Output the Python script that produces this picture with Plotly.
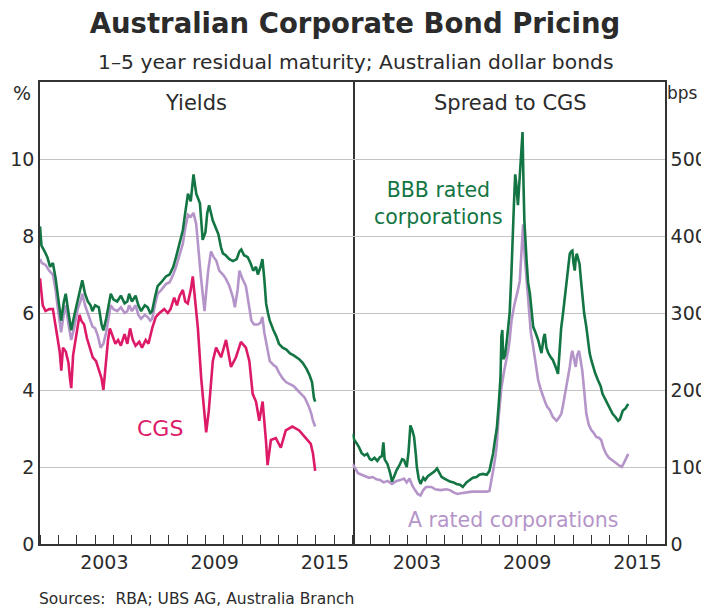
import plotly.graph_objects as go

# ---------------- data ----------------
# Left panel: yields (%)
bbb_yield_t = [2000.00, 2000.08, 2000.25, 2000.4, 2000.55, 2000.7, 2000.85, 2000.95, 2001.05, 2001.15,
               2001.3, 2001.4, 2001.55, 2001.7, 2001.85, 2002.05, 2002.2, 2002.3, 2002.45, 2002.6,
               2002.75, 2002.85, 2003.0, 2003.2, 2003.35, 2003.45, 2003.6, 2003.75, 2003.85, 2004.0,
               2004.2, 2004.4, 2004.6, 2004.75, 2004.85, 2005.0, 2005.2, 2005.35, 2005.5, 2005.7,
               2005.85, 2006.0, 2006.1, 2006.25, 2006.4, 2006.6, 2006.85, 2007.05, 2007.25, 2007.4,
               2007.6, 2007.77, 2007.9, 2008.05, 2008.2, 2008.35, 2008.5, 2008.7, 2008.85, 2009.0,
               2009.1, 2009.2, 2009.4, 2009.55, 2009.7, 2009.85, 2009.95, 2010.1, 2010.3, 2010.5,
               2010.7, 2010.85, 2010.95, 2011.1, 2011.3, 2011.45, 2011.6, 2011.75, 2011.85, 2012.0,
               2012.1, 2012.2, 2012.3, 2012.4, 2012.5, 2012.7, 2012.85, 2013.0, 2013.2, 2013.4,
               2013.6, 2013.8, 2013.95, 2014.1, 2014.3, 2014.5, 2014.65, 2014.8, 2014.9, 2014.97]
bbb_yield = [8.25, 7.75, 7.6, 7.45, 7.2, 7.3, 6.9, 6.5, 6.1, 5.8,
             6.3, 6.5, 6.0, 5.55, 5.9, 6.3, 6.6, 6.85, 6.5, 6.3,
             6.2, 6.05, 6.2, 6.15, 5.7, 5.55, 5.85, 6.2, 6.5, 6.35,
             6.3, 6.45, 6.25, 6.3, 6.5, 6.3, 6.45, 6.2, 6.05, 6.2,
             6.15, 6.0, 6.05, 6.4, 6.7, 6.8, 6.95, 7.0, 7.2, 7.45,
             7.8, 8.15, 8.6, 9.1, 8.9, 9.6, 9.1, 8.85, 7.9, 8.1,
             8.6, 8.8, 8.4, 8.2, 8.05, 7.7, 7.55, 7.5, 7.4, 7.35,
             7.4, 7.6, 7.65, 7.5, 7.45, 7.3, 7.1, 7.2, 7.0, 7.2,
             7.4, 6.9, 6.25, 6.0, 5.8, 5.55, 5.4, 5.2, 5.1, 5.05,
             4.95, 4.9, 4.85, 4.8, 4.7, 4.55, 4.4, 4.2, 3.8, 3.7]

a_yield_t = [2000.0, 2000.1, 2000.3, 2000.5, 2000.7, 2000.85, 2000.95, 2001.05, 2001.15, 2001.3,
             2001.4, 2001.55, 2001.7, 2001.85, 2002.05, 2002.2, 2002.3, 2002.45, 2002.6, 2002.75,
             2002.85, 2003.0, 2003.15, 2003.3, 2003.45, 2003.6, 2003.75, 2003.85, 2004.0, 2004.2,
             2004.4, 2004.6, 2004.75, 2004.85, 2005.0, 2005.2, 2005.35, 2005.5, 2005.7, 2005.85,
             2006.0, 2006.1, 2006.25, 2006.4, 2006.6, 2006.85, 2007.05, 2007.25, 2007.4, 2007.6,
             2007.77, 2007.9, 2008.05, 2008.2, 2008.35, 2008.5, 2008.6, 2008.75, 2008.85, 2008.95,
             2009.05, 2009.15, 2009.3, 2009.45, 2009.6, 2009.75, 2009.95, 2010.1, 2010.3, 2010.5,
             2010.6, 2010.75, 2010.85, 2011.0, 2011.2, 2011.35, 2011.5, 2011.65, 2011.85, 2012.0,
             2012.1, 2012.2, 2012.35, 2012.5, 2012.7, 2012.85, 2013.0, 2013.2, 2013.4, 2013.6,
             2013.8, 2014.0, 2014.2, 2014.4, 2014.6, 2014.75, 2014.85, 2014.97]
a_yield = [7.4, 7.3, 7.25, 7.1, 7.0, 6.6, 6.2, 5.8, 5.5, 6.0,
           6.2, 5.7, 5.3, 5.6, 6.1, 6.3, 6.5, 6.2, 6.0, 5.8,
           5.65, 5.6, 5.4, 5.1, 5.2, 5.5, 5.9, 6.2, 6.1, 6.05,
           6.15, 6.0, 6.05, 6.2, 6.05, 6.2, 5.95, 5.85, 5.95, 5.9,
           5.8, 5.85, 6.2, 6.5, 6.6, 6.75, 6.8, 7.0, 7.2, 7.5,
           7.8, 8.2, 8.55, 8.5, 8.6, 8.3, 7.7, 6.95, 6.5, 6.05,
           6.6, 7.1, 7.6, 7.45, 7.35, 7.1, 7.0, 6.9, 6.7, 6.4,
           6.15, 6.6, 7.1, 6.9, 6.7, 6.3, 5.8, 5.7, 5.7, 5.75,
           5.9, 5.5, 5.1, 4.75, 4.65, 4.6, 4.45, 4.3, 4.2, 4.15,
           4.1, 4.0, 3.9, 3.8, 3.6, 3.4, 3.2, 3.05]

cgs_t = [2000.0, 2000.05, 2000.15, 2000.3, 2000.5, 2000.7, 2000.85, 2000.95, 2001.07, 2001.16,
         2001.25, 2001.4, 2001.55, 2001.63, 2001.7, 2001.8, 2001.95, 2002.15, 2002.25, 2002.4,
         2002.55, 2002.7, 2002.87, 2003.05, 2003.2, 2003.35, 2003.45, 2003.55, 2003.7, 2003.8,
         2003.95, 2004.1, 2004.25, 2004.4, 2004.6, 2004.75, 2004.9, 2005.05, 2005.2, 2005.4,
         2005.55, 2005.75, 2005.9, 2006.1, 2006.3, 2006.5, 2006.76, 2006.95, 2007.1, 2007.3,
         2007.45, 2007.6, 2007.77, 2007.9, 2008.04, 2008.2, 2008.31, 2008.46, 2008.59, 2008.77,
         2008.95, 2009.04, 2009.18, 2009.4, 2009.58, 2009.85, 2010.12, 2010.39, 2010.66, 2010.93,
         2011.2, 2011.39, 2011.57, 2011.75, 2011.93, 2012.11, 2012.29, 2012.38, 2012.56, 2012.83,
         2013.1, 2013.37, 2013.73, 2014.1, 2014.46, 2014.73, 2014.85, 2014.97]
cgs = [6.9, 6.6, 6.2, 6.05, 6.1, 6.1, 5.6, 5.3, 5.0, 4.5,
       5.1, 5.0, 4.7, 4.3, 4.05, 4.9, 5.4, 5.95, 5.8, 5.7,
       5.35, 5.1, 4.85, 4.75, 4.5, 4.3, 4.0, 4.6, 5.3, 5.6,
       5.4, 5.2, 5.3, 5.15, 5.45, 5.2, 5.6, 5.3, 5.15, 5.25,
       5.1, 5.3, 5.2, 5.6, 5.9, 6.0, 6.1, 6.0, 6.1, 6.4,
       6.2, 6.45, 6.6, 6.3, 6.25, 6.6, 6.95, 6.15, 5.6, 4.3,
       3.35, 2.9, 3.45, 4.75, 5.1, 4.85, 5.3, 4.6, 4.85, 5.25,
       5.1, 4.75, 3.9, 3.7, 3.2, 3.7, 2.7, 2.05, 2.7, 2.75,
       2.5, 2.95, 3.05, 2.95, 2.75, 2.6, 2.35, 1.9]

# Right panel: spread to CGS (bps)
bbb_spread_t = [2000.0, 2000.1, 2000.25, 2000.35, 2000.5, 2000.65, 2000.8, 2000.95, 2001.05, 2001.2,
                2001.35, 2001.5, 2001.6, 2001.68, 2001.75, 2001.9, 2002.05, 2002.15, 2002.3, 2002.4,
                2002.55, 2002.7, 2002.8, 2002.95, 2003.05, 2003.15, 2003.25, 2003.35, 2003.45, 2003.5,
                2003.6, 2003.7, 2003.85, 2003.95, 2004.1, 2004.3, 2004.45, 2004.6, 2004.75, 2004.85,
                2005.0, 2005.15, 2005.3, 2005.5, 2005.65, 2005.85, 2006.0, 2006.2, 2006.4, 2006.55,
                2006.75, 2006.9, 2007.1, 2007.3, 2007.45, 2007.55, 2007.65, 2007.75, 2007.85, 2007.95,
                2008.05, 2008.1, 2008.15, 2008.2, 2008.3, 2008.4, 2008.47, 2008.55, 2008.65, 2008.72,
                2008.78, 2008.85, 2008.9, 2009.0, 2009.08, 2009.15, 2009.2, 2009.25, 2009.3, 2009.35,
                2009.47, 2009.55, 2009.65, 2009.75, 2009.83, 2009.95, 2010.1, 2010.2, 2010.28, 2010.4,
                2010.46, 2010.55, 2010.65, 2010.8, 2010.9, 2011.05, 2011.18, 2011.27, 2011.35, 2011.45,
                2011.55, 2011.63, 2011.72, 2011.82, 2011.9, 2011.96, 2012.02, 2012.09, 2012.15, 2012.2,
                2012.28, 2012.35, 2012.42, 2012.5, 2012.6, 2012.72, 2012.82, 2012.9, 2013.0, 2013.08,
                2013.2, 2013.35, 2013.5, 2013.6, 2013.75, 2013.88, 2014.0, 2014.15, 2014.3, 2014.45,
                2014.55, 2014.7, 2014.85, 2015.0]
bbb_spread = [143, 135, 130, 126, 118, 115, 117, 110, 109, 112,
              108, 113, 114, 132, 110, 104, 92, 81, 90, 96,
              102, 110, 109, 100, 120, 154, 148, 139, 115, 100,
              85, 78, 86, 83, 88, 91, 94, 98, 92, 87,
              85, 83, 81, 80, 78, 77, 74, 80, 83, 86,
              87, 90, 91, 90, 95, 105, 118, 135, 150, 180,
              215, 270, 278, 240, 245, 265, 280, 300, 355, 410,
              440, 480, 470, 440, 470, 490, 510, 535, 470, 420,
              368, 340, 325, 300, 282, 275, 265, 255, 248, 268,
              273, 255, 248, 242, 239, 230, 221, 252, 280, 299,
              320, 333, 355, 377, 380, 381, 365, 355, 372, 377,
              370, 364, 345, 325, 300, 282, 265, 248, 238, 230,
              222, 213, 205, 195, 188, 182, 175, 169, 165, 160,
              162, 173, 176, 182]

a_spread_t = [2000.0, 2000.15, 2000.3, 2000.5, 2000.7, 2000.9, 2001.1, 2001.3, 2001.5, 2001.7,
              2001.9, 2002.15, 2002.4, 2002.6, 2002.8, 2002.95, 2003.1, 2003.25, 2003.4, 2003.55,
              2003.7, 2003.85, 2004.0, 2004.3, 2004.5, 2004.8, 2005.1, 2005.3, 2005.5, 2005.7,
              2005.9, 2006.2, 2006.5, 2006.8, 2007.1, 2007.3, 2007.45, 2007.55, 2007.65, 2007.75,
              2007.84, 2007.95, 2008.1, 2008.25, 2008.35, 2008.47, 2008.55, 2008.65, 2008.8, 2008.92,
              2009.0, 2009.1, 2009.18, 2009.28, 2009.35, 2009.43, 2009.5, 2009.6, 2009.7, 2009.83,
              2009.95, 2010.1, 2010.25, 2010.37, 2010.5, 2010.6, 2010.73, 2010.9, 2011.0, 2011.1,
              2011.2, 2011.36, 2011.45, 2011.54, 2011.63, 2011.72, 2011.82, 2011.9, 2011.96, 2012.05,
              2012.14, 2012.22, 2012.32, 2012.4, 2012.5, 2012.6, 2012.72, 2012.85, 2012.99, 2013.1,
              2013.26, 2013.4, 2013.53, 2013.65, 2013.8, 2013.95, 2014.15, 2014.35, 2014.5, 2014.65,
              2014.78, 2014.9, 2015.0]
a_spread = [104, 98, 92, 90, 88, 86, 87, 84, 83, 80,
            82, 78, 82, 83, 85, 80, 85, 76, 70, 65,
            63, 70, 74, 74, 71, 70, 71, 70, 67, 65,
            66, 67, 68, 68, 68, 68, 69, 80, 95, 110,
            126, 165, 203, 225, 235, 251, 265, 290, 310, 325,
            330, 342, 370, 415, 380, 355, 330, 299, 275, 256,
            235, 213, 200, 191, 183, 178, 174, 165, 162, 160,
            163, 169, 180, 191, 203, 213, 230, 245, 251, 240,
            230, 245, 251, 240, 225, 200, 169, 155, 148, 145,
            139, 138, 135, 125, 117, 112, 109, 105, 102, 100,
            106, 112, 117]

year_tick_vals = [2003.5, 2009.5, 2015.5]
year_tick_text = ["2003", "2009", "2015"]
pct_ticks = [0, 2, 4, 6, 8, 10]
bps_ticks = [0, 100, 200, 300, 400, 500]

# ---------------- styling ----------------
GREEN = "#137543"
LILAC = "#b595c9"
PINK = "#dd1a68"
TXT = "#2b2b2b"
AXC = "#333333"
FONT = "DejaVu Sans"
LW = 2.6

# The page adds an 8px body margin, so the figure is 8px smaller and all
# page-pixel positions below are converted with that offset.
OFF = 8
W, H = 709 - OFF, 610 - OFF
PL, PR, PT, PB = 40, 665, 82, 544          # plot area in page pixels

fig = go.Figure()
fig.add_trace(go.Scatter(x=cgs_t, y=cgs, mode="lines", line=dict(color=PINK, width=LW),
                         xaxis="x", yaxis="y", showlegend=False))
fig.add_trace(go.Scatter(x=a_yield_t, y=a_yield, mode="lines", line=dict(color=LILAC, width=LW),
                         xaxis="x", yaxis="y", showlegend=False))
fig.add_trace(go.Scatter(x=bbb_yield_t, y=bbb_yield, mode="lines", line=dict(color=GREEN, width=LW),
                         xaxis="x", yaxis="y", showlegend=False))
fig.add_trace(go.Scatter(x=a_spread_t, y=a_spread, mode="lines", line=dict(color=LILAC, width=LW),
                         xaxis="x2", yaxis="y2", showlegend=False))
fig.add_trace(go.Scatter(x=bbb_spread_t, y=bbb_spread, mode="lines", line=dict(color=GREEN, width=LW),
                         xaxis="x2", yaxis="y2", showlegend=False))

xcommon = dict(range=[2000, 2017], tickmode="array", tickvals=year_tick_vals, ticktext=year_tick_text,
               ticks="", showgrid=False, zeroline=False, showline=True, linecolor=AXC, linewidth=1.5,
               mirror=True, automargin=False, tickfont=dict(family=FONT, size=19, color=TXT),
               minor=dict(tickmode="linear", tick0=2000, dtick=1, ticks="inside", ticklen=9,
                          tickcolor=AXC, tickwidth=1.2, showgrid=False))

fig.update_layout(
    width=W, height=H,
    margin=dict(l=PL - OFF, r=709 - PR, t=PT - OFF, b=610 - PB),
    paper_bgcolor="white", plot_bgcolor="white",
    font=dict(family=FONT, color=TXT),
    title=dict(text="<b>Australian Corporate Bond Pricing</b>", x=(355 - OFF) / W, xanchor="center",
               y=1 - (23 - OFF) / H, yanchor="middle", font=dict(family=FONT, size=27.5, color=TXT)),
    xaxis=dict(domain=[0, 0.5], anchor="y", **xcommon),
    xaxis2=dict(domain=[0.5, 1], anchor="y2", **xcommon),
    yaxis=dict(domain=[0, 1], anchor="x", range=[0, 12], tickmode="array", tickvals=pct_ticks,
               showgrid=True, gridcolor="#c4c4c4", gridwidth=1, zeroline=False, showline=True,
               linecolor=AXC, linewidth=1.5, mirror=True, ticks="", automargin=False,
               tickfont=dict(family=FONT, size=19, color=TXT)),
    yaxis2=dict(domain=[0, 1], anchor="x2", side="right", range=[0, 600], tickmode="array",
                tickvals=bps_ticks, showgrid=True, gridcolor="#c4c4c4", gridwidth=1, zeroline=False,
                showline=True, linecolor=AXC, linewidth=1.5, mirror=False, ticks="", automargin=False,
                tickfont=dict(family=FONT, size=19, color=TXT)),
)


def px_x(x):
    return (x - PL) / (PR - PL)


def px_y(y):
    return (PB - y) / (PB - PT)


annos = [
    ("1–5 year residual maturity; Australian dollar bonds", 355, 62, 20.3, TXT, "center"),
    ("%", 22, 93, 19, TXT, "center"),
    ("bps", 665, 93, 17, TXT, "left"),
    ("Yields", 196, 103, 21, TXT, "center"),
    ("Spread to CGS", 510, 103, 21, TXT, "center"),
    ("CGS", 160, 429, 22, PINK, "center"),
    ("BBB rated<br>corporations", 438, 203, 20.5, GREEN, "center"),
    ("A rated corporations", 513, 520, 20.5, LILAC, "center"),
]
for text, x, y, size, color, anchor in annos:
    fig.add_annotation(text=text, x=px_x(x), y=px_y(y), xref="paper", yref="paper",
                       xanchor=anchor, yanchor="middle", showarrow=False,
                       font=dict(family=FONT, size=size, color=color))

fig.add_annotation(text="Sources:  RBA; UBS AG, Australia Branch", x=px_x(37), y=px_y(599),
                   xref="paper", yref="paper", xanchor="left", yanchor="middle", showarrow=False,
                   font=dict(family=FONT, size=15.5, color=TXT))

fig.write_html("out.html")
